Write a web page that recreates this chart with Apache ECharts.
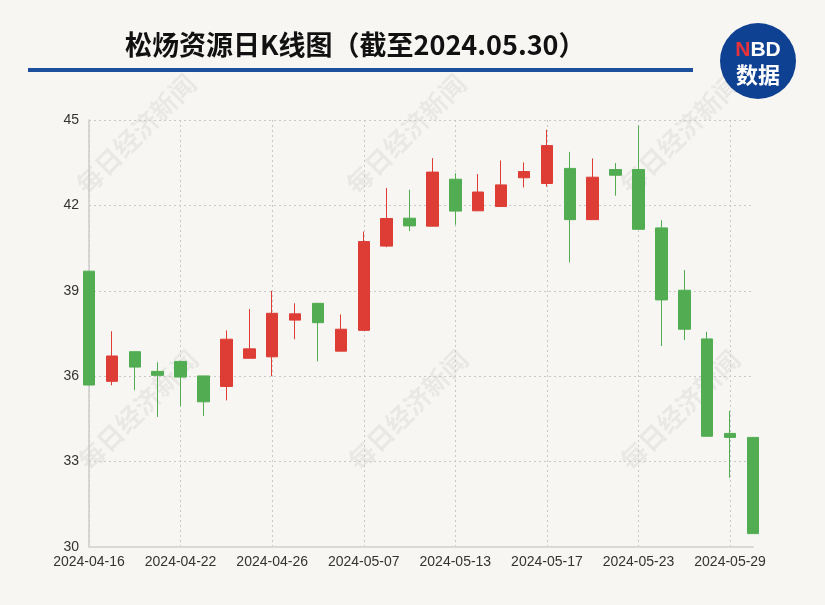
<!DOCTYPE html>
<html>
<head>
<meta charset="utf-8">
<script src="https://cdn.jsdelivr.net/npm/echarts@6/dist/echarts.min.js"></script>
<style>
html,body{margin:0;padding:0;background:#f8f6f2;}
#chart{width:825px;height:605px;}
</style>
</head>
<body>
<div id="chart"></div>
<script>
var dates = ['2024-04-16','2024-04-17','2024-04-18','2024-04-19','2024-04-22','2024-04-23','2024-04-24','2024-04-25','2024-04-26','2024-04-29','2024-04-30','2024-05-06','2024-05-07','2024-05-08','2024-05-09','2024-05-10','2024-05-13','2024-05-14','2024-05-15','2024-05-16','2024-05-17','2024-05-20','2024-05-21','2024-05-22','2024-05-23','2024-05-24','2024-05-27','2024-05-28','2024-05-29','2024-05-30'];
var openPrices  = [39.69,35.82,36.86,36.17,36.52,36.01,35.64,36.63,36.68,37.97,38.56,36.88,37.61,40.57,41.55,41.27,42.92,41.81,41.96,42.97,42.77,43.30,41.50,43.26,43.26,41.21,39.02,37.31,33.99,33.85];
var closePrices = [35.69,36.71,36.32,36.03,35.97,35.10,37.30,36.96,38.21,38.19,37.88,37.65,40.73,41.54,41.28,43.17,41.80,42.47,42.72,43.19,44.10,41.50,42.99,43.06,41.16,38.68,37.65,33.89,33.85,30.47];
var lowPrices   = [35.69,35.68,35.51,34.57,34.95,34.60,35.15,36.63,36.00,37.30,36.52,36.88,37.61,40.53,41.10,41.27,41.32,41.81,41.96,42.63,42.66,40.00,41.50,42.34,41.16,37.06,37.27,33.89,32.43,30.47];
var highPrices  = [39.69,37.58,36.86,36.49,36.52,36.01,37.61,38.36,39.00,38.56,38.56,38.17,41.08,42.61,42.55,43.66,43.13,43.10,43.58,43.51,44.66,43.88,43.65,43.49,44.81,41.48,39.73,37.56,34.78,33.85];
var yTicks = [30,33,36,39,42,45];
var titleText = '松炀资源日K线图（截至2024.05.30）';
var watermarkText = '每日经济新闻';

var kData = dates.map(function(d,i){ return [openPrices[i], closePrices[i], lowPrices[i], highPrices[i]]; });

var chart = echarts.init(document.getElementById('chart'));
var wmPos = [[136,134],[406,134],[680,134],[138,410],[408,410],[680,410]];
var graphics = [];
wmPos.forEach(function(p){
  graphics.push({
    type:'text', x:p[0], y:p[1], rotation:Math.PI/4, z:0, silent:true,
    style:{text:watermarkText, font:'bold 26px "Noto Sans CJK SC"', fill:'rgba(0,0,0,0.055)', align:'center', verticalAlign:'middle'}
  });
});
graphics.push({type:'rect', shape:{x:28,y:68,width:665,height:4}, style:{fill:'#1c4f9c'}, z:10});
graphics.push({type:'circle', shape:{cx:758,cy:61,r:38}, style:{fill:'#0f4193'}, z:10});
graphics.push({type:'text', x:758, y:50, z:11, style:{
  text:'{n|N}{b|BD}', align:'center', verticalAlign:'middle',
  rich:{n:{fill:'#e8323a',font:'bold 21px "Liberation Sans"'}, b:{fill:'#ffffff',font:'bold 21px "Liberation Sans"'}}
}});
graphics.push({type:'text', x:758, y:75, z:11, style:{text:'数据', fill:'#ffffff', font:'bold 22px "Noto Sans CJK SC"', align:'center', verticalAlign:'middle'}});

chart.setOption({
  backgroundColor:'#f8f6f2',
  animation:false,
  title:{
    text:titleText, left:120, top:26,
    textStyle:{fontSize:27, fontWeight:'bold', color:'#111', fontFamily:'"Noto Sans CJK SC"'}
  },
  graphic:graphics,
  grid:{left:89, right:72, top:120, bottom:58, containLabel:false},
  xAxis:{
    type:'category', data:dates, boundaryGap:false,
    axisLine:{lineStyle:{color:'#d9d9d9', width:2}},
    axisTick:{show:false},
    axisLabel:{interval:3, color:'#333', fontSize:14, fontFamily:'"Liberation Sans"', margin:8},
    splitLine:{show:true, interval:3, lineStyle:{color:'#c8c8c8', type:[2,3], width:1}}
  },
  yAxis:{
    type:'value', min:30, max:45, interval:3,
    axisLine:{show:true, lineStyle:{color:'#cccccc', width:1.5}},
    axisTick:{show:false},
    axisLabel:{color:'#333', fontSize:14, fontFamily:'"Liberation Sans"', margin:10},
    splitLine:{show:true, lineStyle:{color:'#c8c8c8', type:[2,3], width:1}}
  },
  series:[{
    type:'candlestick', data:kData, barWidth:12,
    itemStyle:{color:'#dd3d35', color0:'#52ad52', borderColor:'#dd3d35', borderColor0:'#52ad52', borderWidth:1}
  }]
});
</script>
</body>
</html>
